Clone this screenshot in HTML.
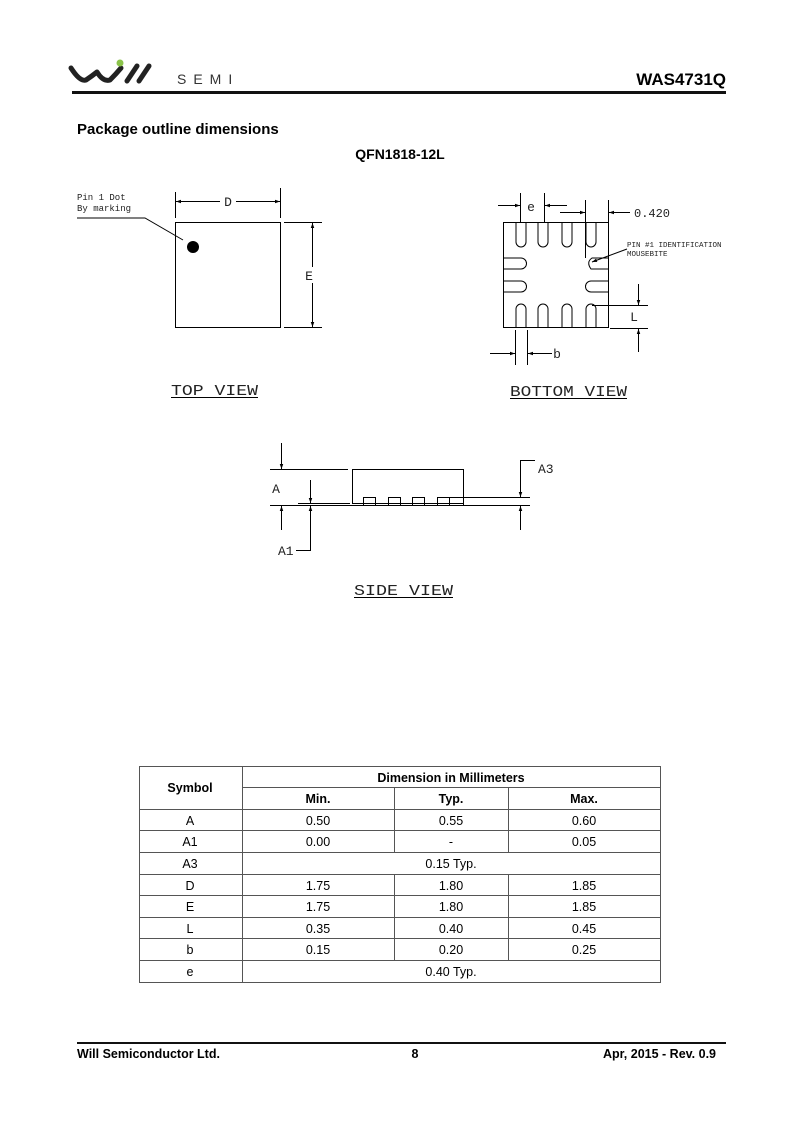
<!DOCTYPE html>
<html><head><meta charset="utf-8"><style>
html,body{margin:0;padding:0;background:#fff}
svg{display:block}
.b{font-family:"Liberation Sans",Arial,sans-serif;font-weight:bold}
.s{font-family:"Liberation Sans",Arial,sans-serif}
.m{font-family:"Liberation Mono",monospace}
</style></head><body>
<svg width="800" height="1131" viewBox="0 0 800 1131" xmlns="http://www.w3.org/2000/svg">
<defs>
<marker id="ar" viewBox="0 0 10 10" refX="10" refY="5" markerWidth="9" markerHeight="5" orient="auto-start-reverse" markerUnits="userSpaceOnUse"><path d="M0,1.5 L10,5 L0,8.5z" fill="#000"/></marker>
</defs>
<!-- header -->
<g fill="none" stroke="#222" stroke-width="5" stroke-linecap="round" stroke-linejoin="round">
<path d="M71,68 Q80,82 86,80 Q92,76 97,72 Q103,82 110,80 Q116,74 121,68"/>
<path d="M127,81 L137,66"/>
<path d="M139,81 L149,66"/>
</g>
<circle cx="120" cy="63" r="3.5" fill="#8bc34a"/>
<text x="177" y="84" class="s" font-size="14" letter-spacing="7" fill="#333">SEMI</text>
<text x="726" y="85" class="b" font-size="17" text-anchor="end">WAS4731Q</text>
<rect x="72" y="91" width="654" height="3" fill="#111"/>
<text x="77" y="134" class="b" font-size="15">Package outline dimensions</text>
<text x="400" y="159" class="b" font-size="14" text-anchor="middle">QFN1818-12L</text>

<g stroke="#000" stroke-width="1" fill="none">
<!-- top view -->
<rect x="175.5" y="222.5" width="105" height="105"/>
<line x1="175.5" y1="192" x2="175.5" y2="218"/>
<line x1="280.5" y1="188" x2="280.5" y2="218"/>
<line x1="176" y1="201.5" x2="220" y2="201.5" marker-start="url(#ar)"/>
<line x1="236" y1="201.5" x2="280" y2="201.5" marker-end="url(#ar)"/>
<line x1="284" y1="222.5" x2="322" y2="222.5"/>
<line x1="284" y1="327.5" x2="322" y2="327.5"/>
<line x1="312.5" y1="223" x2="312.5" y2="267" marker-start="url(#ar)"/>
<line x1="312.5" y1="283" x2="312.5" y2="327" marker-end="url(#ar)"/>
<polyline points="77,218 145,218 183,240"/>
<line x1="171" y1="397.5" x2="258" y2="397.5"/>

<!-- bottom view -->
<rect x="503.5" y="222.5" width="105" height="105"/>
<path d="M516,222 V242 A5,5 0 0 0 526,242 V222"/>
<path d="M538,222 V242 A5,5 0 0 0 548,242 V222"/>
<path d="M562,222 V242 A5,5 0 0 0 572,242 V222"/>
<path d="M586,222 V242 A5,5 0 0 0 596,242 V222"/>
<path d="M516,328 V309 A5,5 0 0 1 526,309 V328"/>
<path d="M538,328 V309 A5,5 0 0 1 548,309 V328"/>
<path d="M562,328 V309 A5,5 0 0 1 572,309 V328"/>
<path d="M586,328 V309 A5,5 0 0 1 596,309 V328"/>
<path d="M503,258 H521 A5.5,5.5 0 0 1 521,269 H503"/>
<path d="M503,281 H521 A5.5,5.5 0 0 1 521,292 H503"/>
<path d="M608,258 H592 Q586,262 591,269 H608"/>
<path d="M608,281 H591 A5.5,5.5 0 0 0 591,292 H608"/>
<line x1="520.5" y1="193" x2="520.5" y2="222"/>
<line x1="544.5" y1="193" x2="544.5" y2="222"/>
<line x1="498" y1="205.5" x2="520" y2="205.5" marker-end="url(#ar)"/>
<line x1="567" y1="205.5" x2="545" y2="205.5" marker-end="url(#ar)"/>
<line x1="585.5" y1="200" x2="585.5" y2="258"/>
<line x1="608.5" y1="200" x2="608.5" y2="222"/>
<line x1="560" y1="212.5" x2="585" y2="212.5" marker-end="url(#ar)"/>
<line x1="630" y1="212.5" x2="609" y2="212.5" marker-end="url(#ar)"/>
<line x1="627" y1="249" x2="592" y2="262" marker-end="url(#ar)"/>
<line x1="592" y1="305.5" x2="648" y2="305.5"/>
<line x1="610" y1="328.5" x2="648" y2="328.5"/>
<line x1="638.5" y1="284" x2="638.5" y2="305" marker-end="url(#ar)"/>
<line x1="638.5" y1="352" x2="638.5" y2="329" marker-end="url(#ar)"/>
<line x1="515.5" y1="330" x2="515.5" y2="365"/>
<line x1="527.5" y1="330" x2="527.5" y2="365"/>
<line x1="490" y1="353.5" x2="515" y2="353.5" marker-end="url(#ar)"/>
<line x1="552" y1="353.5" x2="528" y2="353.5" marker-end="url(#ar)"/>
<line x1="510" y1="398.5" x2="627" y2="398.5"/>

<!-- side view -->
<polyline points="352.5,503 352.5,469.5 463.5,469.5 463.5,503"/>
<line x1="270" y1="469.5" x2="348" y2="469.5"/>
<line x1="270" y1="505.5" x2="530" y2="505.5"/>
<line x1="298" y1="503.5" x2="350" y2="503.5"/>
<line x1="463" y1="497.5" x2="530" y2="497.5"/>
<line x1="352" y1="503.5" x2="463" y2="503.5"/>
<rect x="363.5" y="497.5" width="12" height="8"/>
<rect x="388.5" y="497.5" width="12" height="8"/>
<rect x="412.5" y="497.5" width="12" height="8"/>
<rect x="437.5" y="497.5" width="12" height="8"/>
<rect x="449.5" y="497.5" width="14" height="8"/>
<line x1="281.5" y1="443" x2="281.5" y2="469" marker-end="url(#ar)"/>
<line x1="281.5" y1="530" x2="281.5" y2="506" marker-end="url(#ar)"/>
<line x1="310.5" y1="480" x2="310.5" y2="503" marker-end="url(#ar)"/>
<polyline points="296,550.5 310.5,550.5 310.5,507"/>
<line x1="310.5" y1="528" x2="310.5" y2="506" marker-end="url(#ar)"/>
<polyline points="535,460.5 520.5,460.5 520.5,497" marker-end="url(#ar)"/>
<line x1="520.5" y1="530" x2="520.5" y2="506" marker-end="url(#ar)"/>
<line x1="354" y1="597.5" x2="453" y2="597.5"/>
</g>
<circle cx="193" cy="247" r="6" fill="#000"/>
<g class="m" font-size="9" fill="#222">
<text x="77" y="200">Pin 1 Dot</text>
<text x="77" y="211">By marking</text>
<text x="627" y="247" font-size="7.5">PIN #1 IDENTIFICATION</text>
<text x="627" y="256" font-size="7.5">MOUSEBITE</text>
</g>
<g class="m" font-size="13" fill="#222">
<text x="228" y="206" text-anchor="middle">D</text>
<text x="309" y="280" text-anchor="middle">E</text>
<text x="531" y="211" text-anchor="middle">e</text>
<text x="634" y="217" font-size="12">0.420</text>
<text x="634" y="321" text-anchor="middle">L</text>
<text x="557" y="358" text-anchor="middle">b</text>
<text x="276" y="493" text-anchor="middle">A</text>
<text x="278" y="555">A1</text>
<text x="538" y="473">A3</text>
<text x="171" y="395" font-size="15" textLength="87" lengthAdjust="spacingAndGlyphs">TOP VIEW</text>
<text x="510" y="396" font-size="15" textLength="117" lengthAdjust="spacingAndGlyphs">BOTTOM VIEW</text>
<text x="354" y="595" font-size="15" textLength="99" lengthAdjust="spacingAndGlyphs">SIDE VIEW</text>
</g>

<!-- table -->
<g stroke="#555" stroke-width="1" fill="none">
<rect x="139.5" y="766.5" width="521" height="216"/>
<line x1="242.5" y1="766" x2="242.5" y2="982"/>
<line x1="242" y1="787.5" x2="661" y2="787.5"/>
<line x1="139" y1="809.5" x2="661" y2="809.5"/>
<line x1="139" y1="830.5" x2="661" y2="830.5"/>
<line x1="139" y1="852.5" x2="661" y2="852.5"/>
<line x1="139" y1="874.5" x2="661" y2="874.5"/>
<line x1="139" y1="895.5" x2="661" y2="895.5"/>
<line x1="139" y1="917.5" x2="661" y2="917.5"/>
<line x1="139" y1="938.5" x2="661" y2="938.5"/>
<line x1="139" y1="960.5" x2="661" y2="960.5"/>
<line x1="394.5" y1="787" x2="394.5" y2="852"/>
<line x1="508.5" y1="787" x2="508.5" y2="852"/>
<line x1="394.5" y1="874" x2="394.5" y2="960"/>
<line x1="508.5" y1="874" x2="508.5" y2="960"/>
</g>
<g class="s" font-size="12.5" text-anchor="middle">
<text x="190" y="792" class="b">Symbol</text>
<text x="451" y="782" class="b">Dimension in Millimeters</text>
<text x="318" y="803" class="b">Min.</text>
<text x="451" y="803" class="b">Typ.</text>
<text x="584" y="803" class="b">Max.</text>
<text x="190" y="825">A</text><text x="318" y="825">0.50</text><text x="451" y="825">0.55</text><text x="584" y="825">0.60</text>
<text x="190" y="846">A1</text><text x="318" y="846">0.00</text><text x="451" y="846">-</text><text x="584" y="846">0.05</text>
<text x="190" y="868">A3</text><text x="451" y="868">0.15 Typ.</text>
<text x="190" y="890">D</text><text x="318" y="890">1.75</text><text x="451" y="890">1.80</text><text x="584" y="890">1.85</text>
<text x="190" y="911">E</text><text x="318" y="911">1.75</text><text x="451" y="911">1.80</text><text x="584" y="911">1.85</text>
<text x="190" y="933">L</text><text x="318" y="933">0.35</text><text x="451" y="933">0.40</text><text x="584" y="933">0.45</text>
<text x="190" y="954">b</text><text x="318" y="954">0.15</text><text x="451" y="954">0.20</text><text x="584" y="954">0.25</text>
<text x="190" y="976">e</text><text x="451" y="976">0.40 Typ.</text>
</g>

<!-- footer -->
<rect x="77" y="1042" width="649" height="2" fill="#111"/>
<text x="77" y="1058" class="b" font-size="12.5">Will Semiconductor Ltd.</text>
<text x="415" y="1058" class="b" font-size="12.5" text-anchor="middle">8</text>
<text x="716" y="1058" class="b" font-size="12.5" text-anchor="end">Apr, 2015 - Rev. 0.9</text>
</svg>
</body></html>
